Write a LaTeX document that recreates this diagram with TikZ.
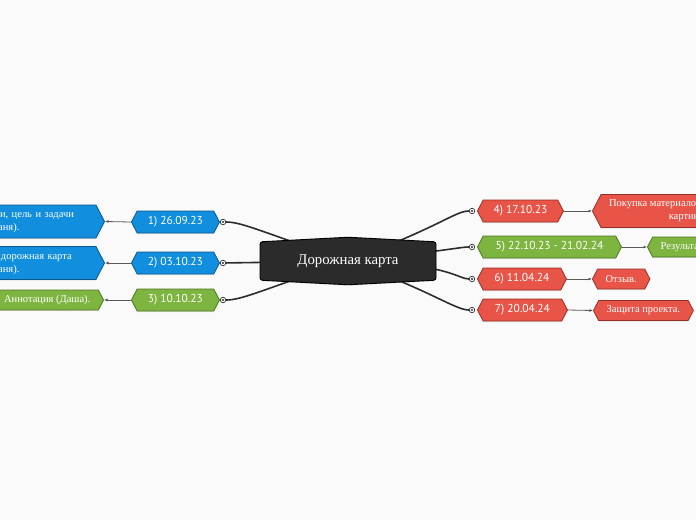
\documentclass[tikz,border=0pt]{standalone}
\usepackage{fontspec}
\setmainfont{Liberation Serif}
\newfontfamily\datefont{PT Sans}
\usetikzlibrary{shapes.symbols,arrows.meta,shadows}
\definecolor{bgc}{HTML}{FAFAFA}
\definecolor{blueF}{RGB}{17,142,221}
\definecolor{blueD}{RGB}{12,88,140}
\definecolor{redF}{RGB}{232,85,72}
\definecolor{redD}{RGB}{150,48,38}
\definecolor{greenF}{RGB}{126,180,64}
\definecolor{greenD}{RGB}{78,118,34}
\definecolor{darkF}{RGB}{43,43,43}
\definecolor{lineC}{RGB}{45,45,45}
\definecolor{grayC}{RGB}{90,90,90}
\pgfdeclarelayer{bottom}
\pgfdeclarelayer{lines}
\pgfsetlayers{bottom,lines,main}
\tikzset{
  hexbase/.style={shape=signal, signal to=west and east, signal pointer angle=125,
    text=white, line width=0.8pt, inner ysep=0pt,
    drop shadow={shadow xshift=0pt, shadow yshift=-1pt, opacity=0.18}},
  datebox/.style={hexbase, font=\datefont\fontsize{11.5}{13}\selectfont, minimum height=22pt},
  leafbox/.style={hexbase, font=\fontsize{10.5}{13}\selectfont, minimum height=20pt, align=center, inner xsep=8pt},
  bluec/.style={fill=blueF, draw=blueD},
  redc/.style={fill=redF, draw=redD},
  greenc/.style={fill=greenF, draw=greenD},
  ring/.style={circle, draw=lineC, fill=white, line width=0.7pt, minimum size=5.5pt, inner sep=0pt,
    path picture={\fill[lineC] (path picture bounding box.center) circle (1.1pt);}},
  mainline/.style={draw=lineC, line width=1.6pt},
  leafline/.style={draw=grayC, line width=0.8pt, -{Latex[length=3.5pt,width=3pt]}},
  centralbox/.style={shape=signal, signal to=north and south, signal pointer angle=174,
    minimum width=176pt, minimum height=44pt, rounded corners=2.5pt,
    fill=darkF, draw=black, line width=0.9pt, text=white,
    font=\fontsize{14.8}{17}\selectfont,
    drop shadow={shadow xshift=0pt, shadow yshift=-1pt, opacity=0.2}}
}
\begin{document}
\begin{tikzpicture}[x=1pt,y=-1pt]
\useasboundingbox (0,0) rectangle (696,520);
\clip (0,0) rectangle (696,520);
\begin{pgfonlayer}{bottom}
\fill[bgc] (0,0) rectangle (696,520);
\end{pgfonlayer}

% central
\node[centralbox] (m) at (348,261) {Дорожная карта};

% date nodes
\node[datebox,bluec,minimum width=88pt,anchor=west] (d1) at (131,222) {1) 26.09.23};
\node[datebox,bluec,minimum width=88pt,anchor=west] (d2) at (131,263) {2) 03.10.23};
\node[datebox,greenc,minimum width=88pt,anchor=west] (d3) at (131,300) {3) 10.10.23};
\node[datebox,redc,minimum width=86pt,anchor=west] (d4) at (477,211) {4) 17.10.23};
\node[datebox,greenc,minimum width=144pt,anchor=west] (d5) at (477,247) {5) 22.10.23 - 21.02.24};
\node[datebox,redc,minimum width=89pt,anchor=west] (d6) at (477,279) {6) 11.04.24};
\node[datebox,redc,minimum width=90pt,anchor=west] (d7) at (477,310) {7) 20.04.24};

% rings
\node[ring] (c1) at (223,222) {};
\node[ring] (c2) at (223,263) {};
\node[ring] (c3) at (223,300) {};
\node[ring] (c4) at (472,211) {};
\node[ring] (c5) at (472,247) {};
\node[ring] (c6) at (472,279) {};
\node[ring] (c7) at (472,310) {};

% leaves
\node[leafbox,bluec,minimum height=33pt,text width=168pt,anchor=east] (l1) at (105,221.5) {Проблема, роли, цель и задачи\\(Таня).};
\node[leafbox,bluec,minimum height=33pt,text width=168pt,anchor=east] (l2) at (105,263) {План работы, дорожная карта\\(Таня).};
\node[leafbox,greenc,anchor=east] (l3) at (104,300) {Аннотация (Даша).};
\node[leafbox,redc,minimum height=33pt,anchor=west] (l4) at (592,211) {Покупка материалов для написания\\картины.};
\node[leafbox,greenc,anchor=west] (l5) at (647,247) {Результат проекта.};
\node[leafbox,redc,anchor=west] (l6) at (592,279) {Отзыв.};
\node[leafbox,redc,anchor=west] (l7) at (593,310.5) {Защита проекта.};

% leaf connectors
\draw[leafline] (d1.west) -- (l1.east);
\draw[leafline] (d2.west) -- (l2.east);
\draw[leafline] (d3.west) -- (l3.east);
\draw[leafline] (d4.east) -- (l4.west);
\draw[leafline] (d5.east) -- (l5.west);
\draw[leafline] (d6.east) -- (l6.west);
\draw[leafline] (d7.east) -- (l7.west);

% main connectors
\begin{pgfonlayer}{lines}
\draw[mainline] (c1) .. controls (242,222) and (262,232) .. (m.center);
\draw[mainline] (c2) -- (m.center);
\draw[mainline] (c3) .. controls (242,300) and (262,290) .. (m.center);
\draw[mainline] (c4) .. controls (455,211) and (440,227) .. (m.center);
\draw[mainline] (c5) .. controls (460,247) and (450,250.5) .. (m.center);
\draw[mainline] (c6) .. controls (458,279) and (448,263) .. (m.center);
\draw[mainline] (c7) .. controls (455,310) and (430,290) .. (m.center);
\end{pgfonlayer}
\end{tikzpicture}
\end{document}
